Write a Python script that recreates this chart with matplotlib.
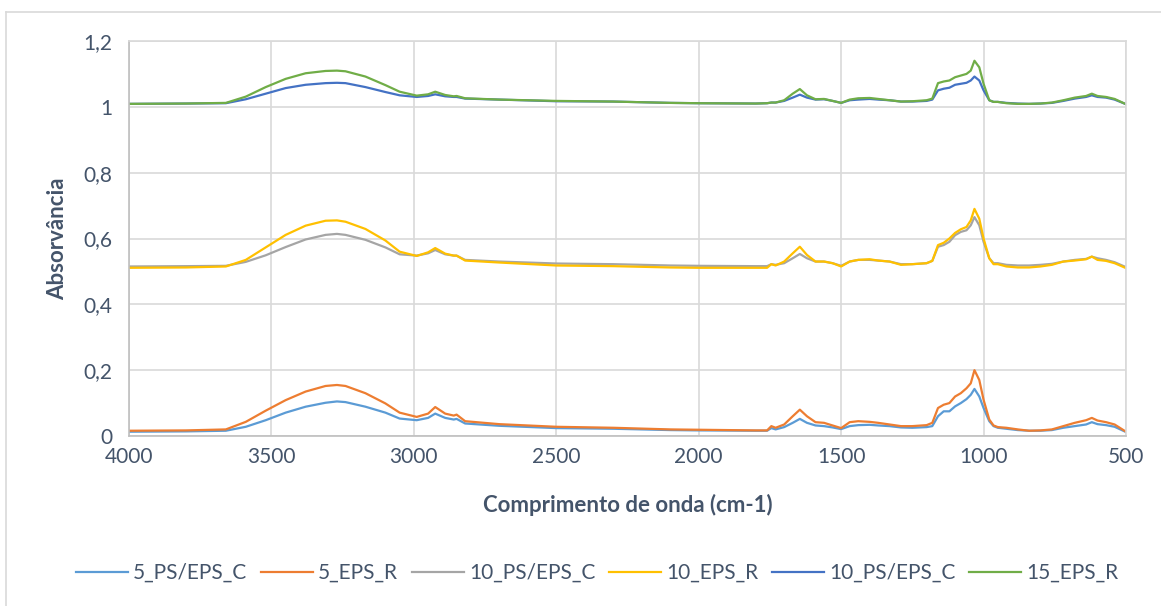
import matplotlib
matplotlib.use("Agg")
import matplotlib.pyplot as plt
from matplotlib.lines import Line2D

# Wavenumbers (cm-1) at which the spectra are sampled
wavenumber = [4000, 3800, 3660, 3590, 3520, 3450, 3380, 3310, 3270, 3240, 3170, 3100, 3050,
              2990, 2950, 2925, 2890, 2860, 2850, 2820, 2700, 2500, 2300, 2100, 2000, 1800,
              1760, 1745, 1730, 1700, 1670, 1645, 1620, 1590, 1560, 1530, 1500, 1470, 1440,
              1400, 1370, 1330, 1290, 1250, 1200, 1180, 1160, 1140, 1120, 1100, 1080, 1060,
              1045, 1032, 1015, 1000, 980, 965, 950, 920, 880, 840, 800, 760, 720, 680,
              640, 620, 600, 570, 540, 500]

ps_eps_c_5 = [0.013, 0.014, 0.016, 0.028, 0.048, 0.071, 0.089, 0.101, 0.105, 0.103, 0.089, 0.071, 0.053,
              0.048, 0.055, 0.068, 0.055, 0.050, 0.052, 0.038, 0.031, 0.024, 0.022, 0.018, 0.017, 0.016,
              0.016, 0.024, 0.020, 0.027, 0.040, 0.052, 0.040, 0.032, 0.030, 0.026, 0.021, 0.030, 0.033,
              0.034, 0.032, 0.030, 0.026, 0.025, 0.027, 0.030, 0.060, 0.075, 0.075, 0.090, 0.100, 0.112,
              0.125, 0.143, 0.120, 0.085, 0.045, 0.030, 0.025, 0.022, 0.018, 0.016, 0.016, 0.018, 0.025,
              0.030, 0.035, 0.042, 0.036, 0.033, 0.028, 0.012]

eps_r_5 = [0.016, 0.017, 0.020, 0.043, 0.077, 0.109, 0.135, 0.152, 0.155, 0.152, 0.130, 0.099, 0.071,
           0.058, 0.068, 0.088, 0.068, 0.062, 0.065, 0.045, 0.036, 0.028, 0.025, 0.020, 0.019, 0.017,
           0.017, 0.030, 0.025, 0.035, 0.060, 0.080, 0.060, 0.042, 0.040, 0.032, 0.024, 0.042, 0.045,
           0.043, 0.040, 0.035, 0.030, 0.030, 0.033, 0.040, 0.085, 0.095, 0.100, 0.120, 0.130, 0.145,
           0.160, 0.200, 0.170, 0.110, 0.050, 0.032, 0.027, 0.025, 0.020, 0.016, 0.017, 0.020, 0.030,
           0.040, 0.048, 0.055, 0.047, 0.042, 0.035, 0.013]

ps_eps_c_10 = [0.515, 0.516, 0.517, 0.529, 0.549, 0.574, 0.597, 0.611, 0.614, 0.611, 0.596, 0.573, 0.552,
               0.548, 0.555, 0.565, 0.552, 0.548, 0.548, 0.535, 0.530, 0.524, 0.522, 0.518, 0.517, 0.516,
               0.516, 0.522, 0.520, 0.525, 0.540, 0.553, 0.540, 0.530, 0.530, 0.525, 0.517, 0.530, 0.535,
               0.535, 0.533, 0.530, 0.522, 0.522, 0.525, 0.532, 0.575, 0.580, 0.590, 0.610, 0.620, 0.625,
               0.640, 0.665, 0.640, 0.590, 0.540, 0.525, 0.525, 0.520, 0.518, 0.518, 0.520, 0.523, 0.530,
               0.535, 0.538, 0.545, 0.540, 0.535, 0.528, 0.513]

eps_r_10 = [0.511, 0.512, 0.515, 0.535, 0.573, 0.611, 0.639, 0.654, 0.655, 0.651, 0.629, 0.594, 0.560,
            0.547, 0.558, 0.571, 0.554, 0.548, 0.548, 0.533, 0.527, 0.518, 0.516, 0.512, 0.511, 0.511,
            0.511, 0.522, 0.518, 0.530, 0.555, 0.575, 0.550, 0.530, 0.530, 0.525, 0.515, 0.530, 0.535,
            0.537, 0.533, 0.530, 0.520, 0.522, 0.525, 0.532, 0.580, 0.587, 0.600, 0.617, 0.628, 0.635,
            0.655, 0.690, 0.660, 0.600, 0.540, 0.522, 0.522, 0.515, 0.512, 0.512, 0.515, 0.520, 0.530,
            0.533, 0.537, 0.545, 0.535, 0.532, 0.525, 0.510]

ps_eps_c_10b = [1.009, 1.010, 1.011, 1.023, 1.040, 1.057, 1.067, 1.072, 1.073, 1.072, 1.060, 1.045, 1.035,
                1.030, 1.033, 1.038, 1.032, 1.030, 1.030, 1.025, 1.022, 1.017, 1.016, 1.012, 1.011, 1.010,
                1.011, 1.013, 1.013, 1.018, 1.028, 1.037, 1.028, 1.022, 1.023, 1.018, 1.012, 1.020, 1.022,
                1.024, 1.022, 1.020, 1.016, 1.016, 1.018, 1.022, 1.050, 1.055, 1.058, 1.067, 1.070, 1.073,
                1.080, 1.092, 1.080, 1.050, 1.020, 1.015, 1.015, 1.012, 1.010, 1.009, 1.010, 1.012, 1.018,
                1.025, 1.030, 1.035, 1.030, 1.028, 1.022, 1.008]

eps_r_15 = [1.009, 1.010, 1.012, 1.031, 1.060, 1.085, 1.102, 1.109, 1.110, 1.108, 1.092, 1.066, 1.046,
            1.034, 1.038, 1.046, 1.036, 1.032, 1.033, 1.026, 1.022, 1.018, 1.016, 1.012, 1.011, 1.010,
            1.011, 1.013, 1.013, 1.020, 1.040, 1.054, 1.035, 1.023, 1.024, 1.018, 1.012, 1.022, 1.026,
            1.027, 1.024, 1.020, 1.016, 1.017, 1.020, 1.025, 1.072, 1.077, 1.080, 1.090, 1.095, 1.100,
            1.110, 1.140, 1.120, 1.070, 1.020, 1.015, 1.015, 1.011, 1.009, 1.009, 1.010, 1.013, 1.020,
            1.028, 1.033, 1.040, 1.033, 1.030, 1.024, 1.008]

series_labels = ["5_PS/EPS_C", "5_EPS_R", "10_PS/EPS_C", "10_EPS_R", "10_PS/EPS_C", "15_EPS_R"]
series_values = [ps_eps_c_5, eps_r_5, ps_eps_c_10, eps_r_10, ps_eps_c_10b, eps_r_15]
series_colors = ["#5B9BD5", "#ED7D31", "#A5A5A5", "#FFC000", "#4472C4", "#70AD47"]

x_ticks = [4000, 3500, 3000, 2500, 2000, 1500, 1000, 500]
y_ticks = [0, 0.2, 0.4, 0.6, 0.8, 1.0, 1.2]
y_tick_labels = ["0", "0,2", "0,4", "0,6", "0,8", "1", "1,2"]

text_color = "#44546A"
grid_color = "#D9D9D9"
plt.rcParams["font.family"] = ["Lato", "DejaVu Sans"]

W, H = 1161, 606
fig = plt.figure(figsize=(W / 100, H / 100), dpi=100)
ax = fig.add_axes([129 / W, 1 - 436 / H, (1126 - 129) / W, (436 - 41) / H])

for vals, lab, col in zip(series_values, series_labels, series_colors):
    ax.plot(wavenumber, vals, color=col, lw=1.6, label=lab, solid_joinstyle="round")

ax.set_xlim(4000, 500)
ax.set_ylim(0, 1.2)
ax.set_xticks(x_ticks)
ax.set_xticklabels([str(v) for v in x_ticks])
ax.set_yticks(y_ticks)
ax.set_yticklabels(y_tick_labels)
ax.grid(True, color=grid_color, lw=1.2)
ax.set_axisbelow(True)
ax.tick_params(length=0, labelsize=15, colors=text_color)
ax.tick_params(axis="y", pad=12)
ax.tick_params(axis="x", pad=8)
for side in ["top", "right"]:
    ax.spines[side].set_color(grid_color)
    ax.spines[side].set_linewidth(1.2)
for side in ["left", "bottom"]:
    ax.spines[side].set_color("#BFBFBF")
    ax.spines[side].set_linewidth(1.2)

ax.set_ylabel("Absorvância", fontsize=16, fontweight="bold", color=text_color, labelpad=11)
ax.set_xlabel("Comprimento de onda (cm-1)", fontsize=16, fontweight="bold",
              color=text_color, labelpad=19)

leg = fig.legend(loc="center", bbox_to_anchor=(597 / W, 1 - 573 / H), ncol=6, frameon=False,
                 fontsize=15, handlelength=2.5, handletextpad=0.25, columnspacing=0.65)
for t in leg.get_texts():
    t.set_color(text_color)

# chart-area frame
fig.add_artist(Line2D([6 / W, 1], [1 - 11.5 / H, 1 - 11.5 / H], color=grid_color, lw=1.2))
fig.add_artist(Line2D([6 / W, 6 / W], [0, 1 - 11.5 / H], color=grid_color, lw=1.2))

fig.savefig("out.png", dpi=100, facecolor="white")
